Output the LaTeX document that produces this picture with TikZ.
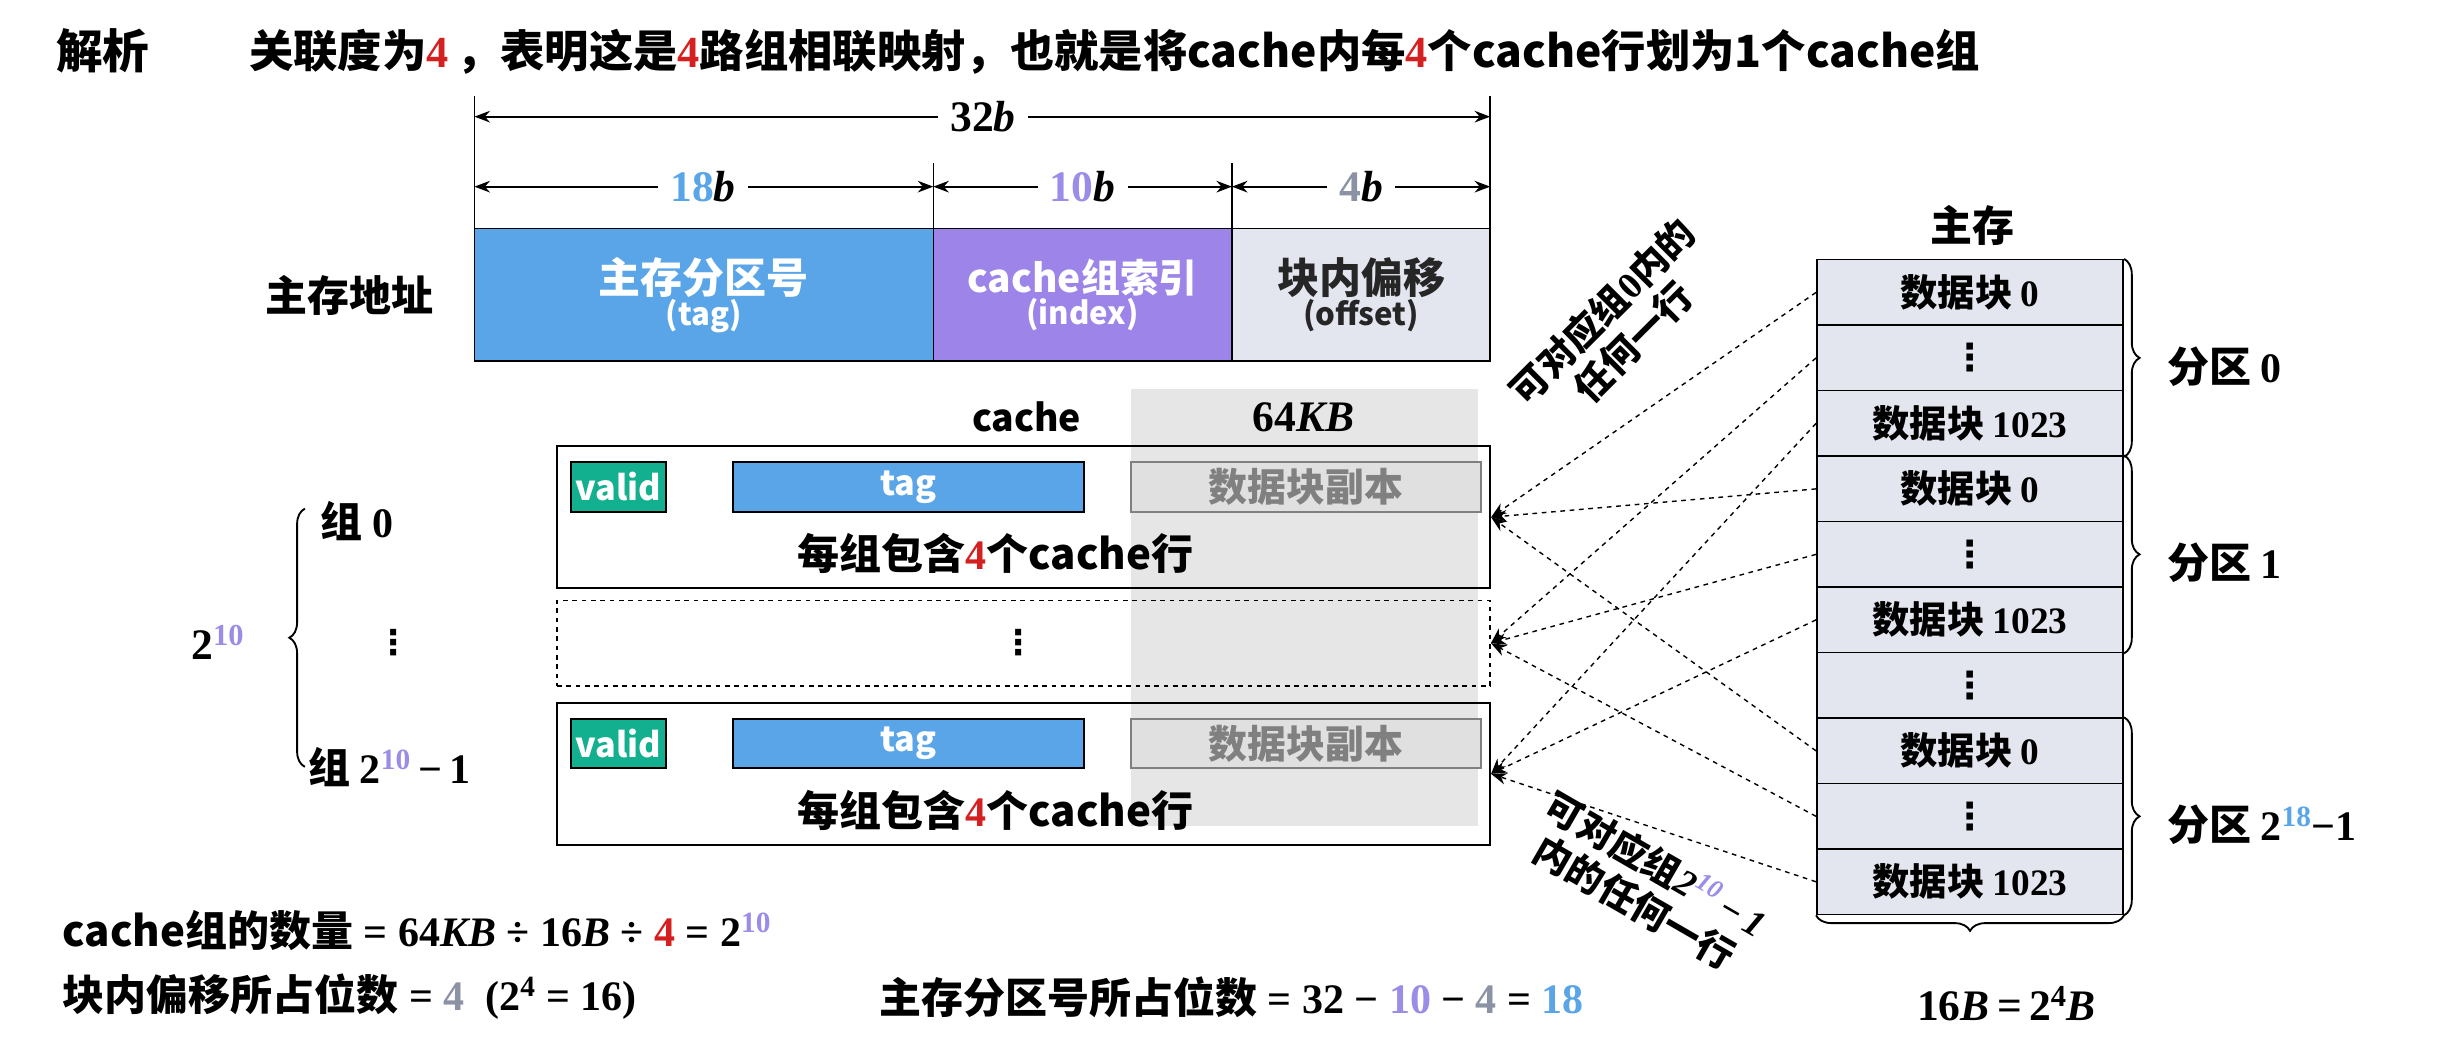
\documentclass[tikz,border=0pt]{standalone}
\usepackage{fontspec}
\setmainfont{Noto Sans CJK SC}
\newfontfamily\nf{Liberation Serif}
\newfontfamily\dv{DejaVu Sans}
\usetikzlibrary{decorations.pathreplacing,arrows.meta}
\definecolor{cblue}{HTML}{5AA5E8}
\definecolor{cpurp}{HTML}{9C84E8}
\definecolor{cgreyb}{HTML}{E4E6EF}
\definecolor{cteal}{HTML}{12B08E}
\definecolor{cred}{HTML}{D42020}
\definecolor{npurp}{HTML}{9B8CE8}
\definecolor{ngrey}{HTML}{8A92A3}
\definecolor{cshade}{HTML}{E6E6E6}
\newcommand{\N}[1]{{\nf\bfseries #1}}
\newcommand{\I}[1]{{\nf\bfseries\itshape #1}}
\newcommand{\Sp}[1]{\textsuperscript{\nf\bfseries #1}}
\newcommand{\VD}{{\dv\bfseries ⋮}}
\tikzset{
  txt/.style={font=\fontsize{26}{30}\selectfont\bfseries, inner sep=0},
  ftxt/.style={font=\fontsize{27}{30}\selectfont\bfseries, inner sep=0},
  btxt/.style={font=\fontsize{27}{31}\selectfont\bfseries, inner sep=0},
  mth/.style={font=\fontsize{28}{30}\selectfont\bfseries, inner sep=0},
  dim/.style={{Stealth[length=10pt]}-{Stealth[length=10pt]}, line width=1.1pt},
  field/.style={draw=black, line width=1pt, minimum height=85pt, inner sep=0, align=center},
  setbox/.style={draw=black, line width=1.2pt, minimum width=600pt, minimum height=91pt, inner sep=0},
  small/.style={draw=black, line width=1.2pt, minimum height=32pt, inner sep=0, font=\fontsize{22}{24}\selectfont\bfseries},
  row/.style={draw=black, line width=1pt, fill=cgreyb, minimum width=197pt, minimum height=42.1pt, inner sep=0, font=\fontsize{24}{26}\selectfont\bfseries},
  map/.style={dashed, line width=0.9pt, -{Stealth[length=10pt]}},
  brc/.style={decorate, decoration={brace, amplitude=10pt}, line width=1.2pt},
  vd/.style={font=\fontsize{22}{24}\selectfont, inner sep=0}
}
\begin{document}
\begin{tikzpicture}[x=1pt,y=-1pt]
\useasboundingbox (0,0) rectangle (1568,669);
% title
\node[btxt, font=\fontsize{30}{34}\selectfont\bfseries, anchor=west] (jx) at (36,33) {解析};
\node[txt, font=\fontsize{28.5}{32}\selectfont\bfseries, anchor=west] (title) at (160,33) {关联度为\textcolor{cred}{\N{4}}\,，表明这是\textcolor{cred}{\N{4}}路组相联映射，也就是将cache内每\textcolor{cred}{\N{4}}个cache行划为1个cache组};
% dimension lines
\coordinate (t0) at (305,62); \coordinate (t0b) at (305,147);
\coordinate (t1) at (600,105); \coordinate (t1b) at (600,147);
\coordinate (t2) at (792,105); \coordinate (t2b) at (792,147);
\coordinate (t3) at (958,62); \coordinate (t3b) at (958,147);
\draw[line width=1pt] (t0)--(t0b) (t3)--(t3b) (t1)--(t1b) (t2)--(t2b);
\coordinate (a0) at (305,75); \coordinate (a3) at (958,75);
\draw[dim] (a0)--(a3);
\node[mth, fill=white, inner xsep=8pt] (l32) at (632,75) {\N{32}\I{b}};
\coordinate (b0) at (305,120); \coordinate (b1) at (600,120); \coordinate (b2) at (792,120); \coordinate (b3) at (958,120);
\draw[dim] (b0)--(b1); \draw[dim] (b1)--(b2); \draw[dim] (b2)--(b3);
\node[mth, fill=white, inner xsep=8pt] (l18) at (452,120) {\textcolor{cblue}{\N{18}}\I{b}};
\node[mth, fill=white, inner xsep=8pt] (l10) at (696,120) {\textcolor{npurp}{\N{10}}\I{b}};
\node[mth, fill=white, inner xsep=8pt] (l4) at (875,120) {\textcolor{ngrey}{\N{4}}\I{b}};
% address fields
\node[field, fill=cblue, minimum width=295pt, text=white] (ftag) at (452.5,189.5) {\fontsize{27}{32}\selectfont\bfseries 主存分区号\\[0pt]\fontsize{20}{24}\selectfont\bfseries (tag)};
\node[field, fill=cpurp, minimum width=192pt, text=white] (fidx) at (696,189.5) {\fontsize{25}{32}\selectfont\bfseries cache组索引\\[0pt]\fontsize{20}{24}\selectfont\bfseries (index)};
\node[field, fill=cgreyb, minimum width=166pt, text=black!85] (foff) at (875,189.5) {\fontsize{27}{32}\selectfont\bfseries 块内偏移\\[0pt]\fontsize{20}{24}\selectfont\bfseries (offset)};
\node[btxt] (addr) at (225,190) {主存地址};
% cache
\fill[cshade] (727,250) rectangle (950,531);
\node[txt, font=\fontsize{24}{28}\selectfont\bfseries] (cl) at (660,268) {cache};
\node[mth] (csz) at (838,268) {\N{64}\I{KB}};
\node[setbox] (s0) at (658,332.5) {};
\node[setbox, dashed, line width=1pt, minimum height=55pt] (s1) at (658,413.5) {};
\node[setbox] (s2) at (658,497.5) {};
\foreach \s/\y in {0/313,2/478}{
  \node[small, fill=cteal, text=white, minimum width=61pt] (v\s) at (397.5,\y) {valid};
  \node[small, fill=cblue, text=white, minimum width=226pt] (g\s) at (584,\y) {tag};
  \node[small, draw=gray, fill=black!12, text=gray, minimum width=225pt, font=\fontsize{25}{26}\selectfont\bfseries] (d\s) at (839.5,\y) {数据块副本};
}
\node[btxt] (e0) at (640,356) {每组包含\textcolor{cred}{\N{4}}个cache行};
\node[btxt] (e2) at (640,521) {每组包含\textcolor{cred}{\N{4}}个cache行};
\node[vd] (dd) at (655,413) {\VD};
% left brace
\coordinate (lb0) at (196,493); \coordinate (lb1) at (196,327);
\draw[brc] (lb0)--(lb1);
\node[mth] (n210) at (140,413) {\N{2}\Sp{\textcolor{npurp}{10}}};
\node[btxt, anchor=west] (z0) at (206,335) {组 \N{0}};
\node[vd] (zd) at (253,413) {\VD};
\node[btxt, anchor=west] (zn) at (198,493) {组 \N{2}\Sp{\textcolor{npurp}{10}}\N{\,−\,1}};
% main memory
\node[btxt] (mm) at (1268,145) {主存};
\foreach \i/\t in {0/数据块 \N{0},1/\VD,2/数据块 \N{1023},3/数据块 \N{0},4/\VD,5/数据块 \N{1023},6/\VD,7/数据块 \N{0},8/\VD,9/数据块 \N{1023}}{
  \node[row] (m\i) at (1266.5,{188+42.1*\i}) {\t};
}
\draw[brc] (m0.north east) -- (m2.south east);
\draw[brc] (m3.north east) -- (m5.south east);
\draw[brc] (m7.north east) -- (m9.south east);
\draw[brc] (m9.south east) -- (m9.south west);
\node[btxt, anchor=west] (p0) at (1393,236) {分区 \N{0}};
\node[btxt, anchor=west] (p1) at (1393,362) {分区 \N{1}};
\node[btxt, anchor=west] (p2) at (1393,530) {分区 \N{2}\Sp{\textcolor{cblue}{18}}\N{−1}};
\node[mth] (sz) at (1290,645) {\N{16}\I{B}\N{\,=\,2}\Sp{4}\I{B}};
% mapping arrows
\foreach \i/\s in {0/0,1/1,2/2,3/0,4/1,5/2,7/0,8/1,9/2}{
  \draw[map] (m\i.west) -- (s\s.east);
}
\node[txt, font=\fontsize{24}{28}\selectfont\bfseries, align=center, rotate=45] (lab0) at (1040,210) {可对应组\N{0}内的\\任何一行};
\node[txt, font=\fontsize{24}{28}\selectfont\bfseries, align=center, rotate=-30] (lab1) at (1058,568) {可对应组\I{2}\textsuperscript{\I{\textcolor{npurp}{10}}}\I{\,−\,1}\\内的任何一行};
% bottom formulas
\node[ftxt, anchor=west] (f1) at (40,598) {cache组的数量\N{\ =\ 64}\I{KB}\N{\ ÷\ 16}\I{B}\N{\ ÷\ }\textcolor{cred}{\N{4}}\N{\ =\ 2}\Sp{\textcolor{npurp}{10}}};
\node[ftxt, anchor=west] (f2) at (40,641) {块内偏移所占位数\N{\ =\ }\textcolor{ngrey}{\N{4}}\N{\ \ (2}\Sp{4}\N{\ =\ 16)}};
\node[ftxt, anchor=west] (f3) at (565,641) {主存分区号所占位数\N{\ =\ 32\ −\ }\textcolor{npurp}{\N{10}}\N{\ −\ }\textcolor{ngrey}{\N{4}}\N{\ =\ }\textcolor{cblue}{\N{18}}};
\end{tikzpicture}
\end{document}
